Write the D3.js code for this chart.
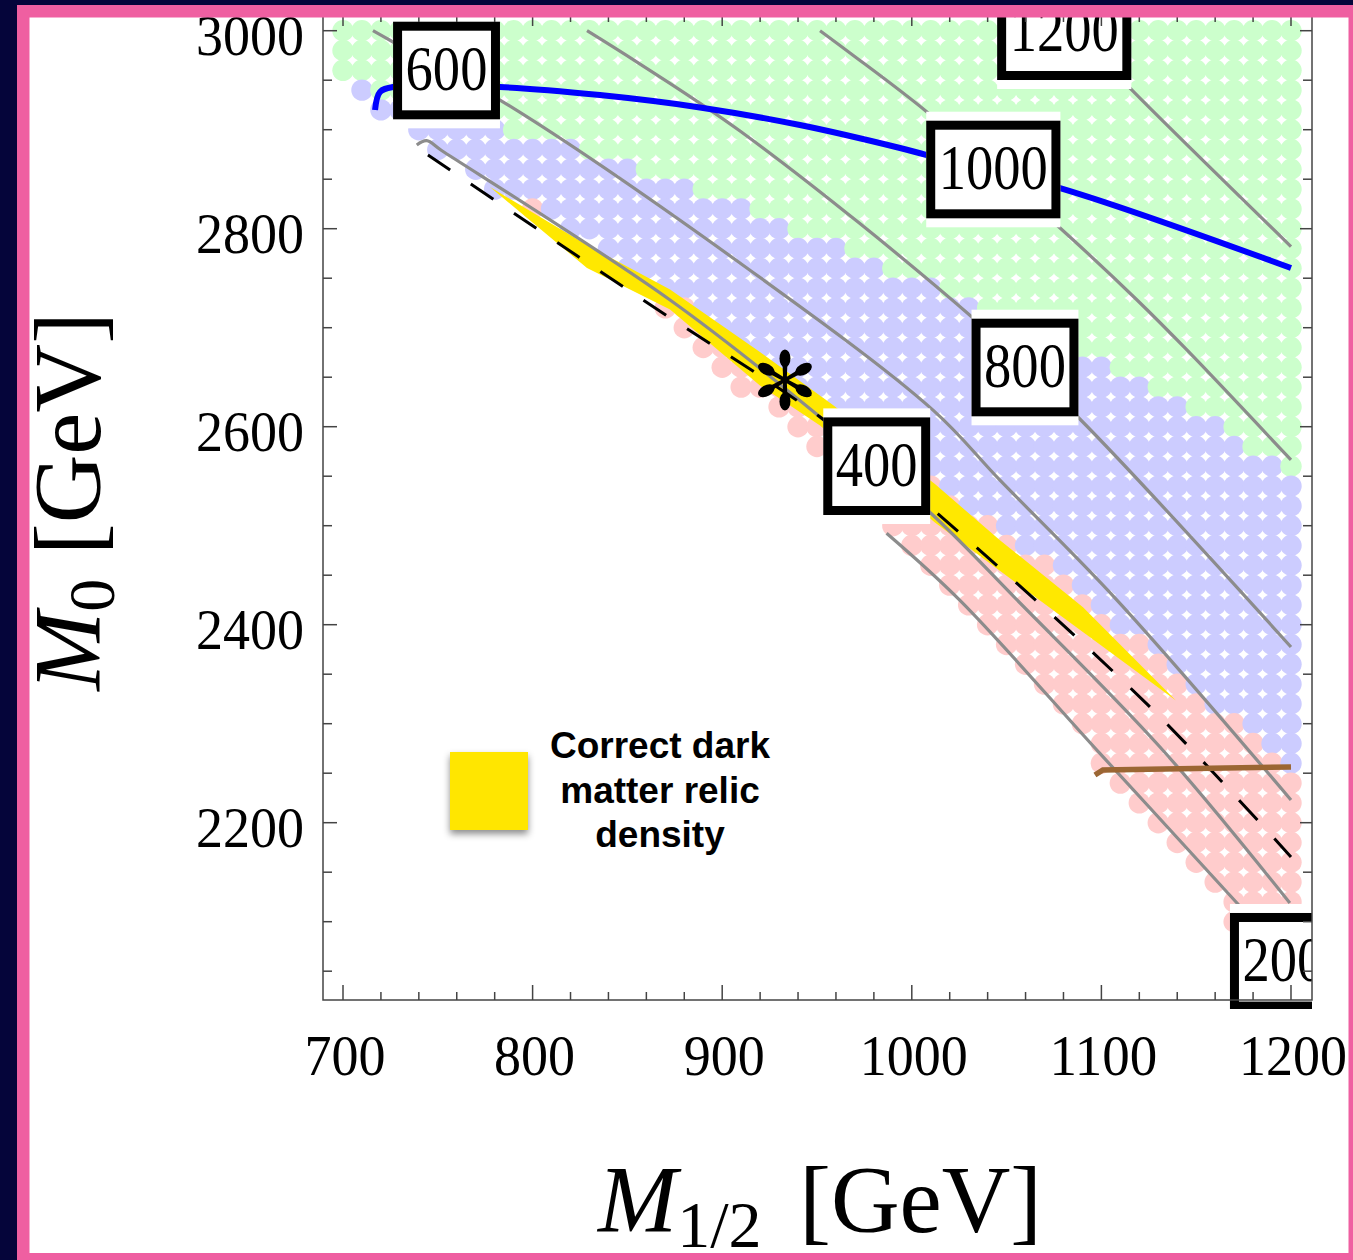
<!DOCTYPE html>
<html>
<head>
<meta charset="utf-8">
<script src="https://cdn.jsdelivr.net/npm/d3@7"></script>
<style>
html, body { margin: 0; padding: 0; background: #05053a; }
svg { display: block; }
</style>
</head>
<body>
<svg id="chart" width="1353" height="1260"></svg>
<script>
//----------------------------------------------------- data
// scan grid: M1/2 columns and M0 rows
var m12Grid = [700, 710, 720, 730, 740, 750, 760, 770, 780, 790, 800, 810, 820, 830, 840, 850, 860, 870, 880, 890,
	900, 910, 920, 930, 940, 950, 960, 970, 980, 990, 1000, 1010, 1020, 1030, 1040, 1050, 1060, 1070, 1080, 1090,
	1100, 1110, 1120, 1130, 1140, 1150, 1160, 1170, 1180, 1190, 1200];
var m0Grid = [3000, 2980, 2960, 2940, 2920, 2900, 2880, 2860, 2840, 2820, 2800, 2780, 2760, 2740, 2720, 2700,
	2680, 2660, 2640, 2620, 2600, 2580, 2560, 2540, 2520, 2500, 2480, 2460, 2440, 2420, 2400, 2380, 2360, 2340,
	2320, 2300, 2280, 2260, 2240, 2220, 2200, 2180, 2160, 2140, 2120, 2100, 2080, 2060, 2040];

// per column: lowest valid point, highest pink point (null = none), lowest green point
var lowestM0 = [2960, 2940, 2920, 2920, 2900, 2880, 2880, 2860, 2840, 2840, 2820, 2820, 2800, 2800, 2780, 2760,
	2760, 2720, 2700, 2680, 2660, 2640, 2640, 2620, 2600, 2580, 2560, 2540, 2520, 2500, 2480, 2460, 2440, 2420,
	2400, 2380, 2360, 2340, 2320, 2300, 2260, 2240, 2220, 2200, 2180, 2160, 2140, 2100, 2080, 2060, 2040];
var pinkTopM0 = [null, null, null, null, null, null, null, null, null, null, 2820, null, null, null, null, null,
	null, 2720, 2720, 2700, 2680, 2660, 2660, 2640, 2620, 2600, 2600, 2580, 2560, 2540, 2540, 2540, 2520, 2500,
	2500, 2480, 2460, 2460, 2440, 2420, 2400, 2380, 2380, 2360, 2340, 2320, 2300, 2300, 2280, 2260, 2240];
var greenLowM0 = [2960, 2960, 2940, 2940, 2920, 2920, 2920, 2920, 2920, 2900, 2900, 2900, 2900, 2880, 2880, 2880,
	2860, 2860, 2860, 2840, 2840, 2840, 2820, 2820, 2800, 2800, 2800, 2780, 2780, 2760, 2760, 2760, 2740, 2740,
	2720, 2720, 2700, 2700, 2680, 2680, 2680, 2660, 2660, 2640, 2640, 2620, 2620, 2600, 2580, 2580, 2560];

// gray contours [M1/2, M0]
var contour200 = [[986.7, 2492.3], [1025.4, 2424.5], [1099.2, 2270], [1171.5, 2118.9], [1200, 2058]];
var contour400 = [[738.9, 2884.6], [744.1, 2888.9], [752, 2879], [872.5, 2728], [951.6, 2609.8], [1012.2, 2508.8],
	[1055.5, 2425], [1130.9, 2276.5], [1199.4, 2118.9]];
var contour600 = [[715.8, 3000], [726.4, 2988.6], [782.8, 2930], [909.4, 2765.3], [1011.2, 2616.8],
	[1046.5, 2546], [1108.2, 2424.9], [1200, 2223]];
var contour800 = [[828.7, 3000], [909.4, 2898.7], [1031.7, 2710.8], [1087.6, 2609.8], [1200, 2377.5]];
var contour1000 = [[951.6, 3000], [967.4, 2977.5], [1008, 2917.9], [1078.2, 2800.7], [1118.8, 2728],
	[1145.1, 2677.5], [1200, 2566.4]];
var contour1200 = [[1086.1, 3000], [1115.1, 2942], [1200, 2782]];

// contour labels
var contourLabels = ['200', '400', '600', '800', '1000', '1200'];
var labelM12 = [1196, 981.5, 754.6, 1059.7, 1043, 1080.4];
var labelM0 = [2059.5, 2560.1, 2959.8, 2659.8, 2859.8, 2999.5];

// other curves
var dashedLine = [[744.8, 2874.5], [858.2, 2728], [951.6, 2609.8], [1013.3, 2512.8], [1125.6, 2316.9], [1200, 2165.4]];
var blueLine = [[716.9, 2919.9], [719.5, 2938.1], [726.4, 2943.1], [782.8, 2943.1], [835.5, 2935], [888.3, 2922.5],
	[941, 2904.7], [993.8, 2881.5], [1008, 2874.4], [1078.2, 2841.1], [1200, 2760.3]];
var brownLine = [[1096.6, 2248.2], [1100.8, 2253.3], [1200, 2256.3]];

// relic density band: upper edge then lower edge back
var bandUpper = [[777.5, 2842.1], [828.7, 2783.5], [872.5, 2738.5], [919.9, 2675.4], [958.4, 2621.8],
	[1012.2, 2542], [1046.5, 2485.4], [1090.3, 2417.7], [1139.3, 2323.5]];
var bandLower = [[1099.2, 2380.1], [1066, 2426.6], [1012.2, 2503.3], [951.6, 2601.3], [919.9, 2641.7],
	[872.5, 2718.5], [828.7, 2760.3]];

var benchmark = [933.1, 2647.2];

var xTicks = [700, 800, 900, 1000, 1100, 1200];
var yTicks = [2200, 2400, 2600, 2800, 3000];
var legendLines = ['Correct dark', 'matter relic', 'density'];

//----------------------------------------------------- layout
var fv = {
	'width': 1353,
	'height': 1260,
	'left': 323,
	'right': 1312,
	'top': 12,
	'bottom': 1000
};

var col = {
	'green': '#ccffcc',
	'blue': '#ccccff',
	'pink': '#ffcccc',
	'band': '#ffe800',
	'gray': '#8c8c8c'
};

var serif = '"Liberation Serif", "Times New Roman", serif';

var svg = d3.select('#chart');

var x = d3.scaleLinear().domain([689.45, 1211.08]).range([fv.left, fv.right]);
var y = d3.scaleLinear().domain([2020.9, 3018.9]).range([fv.bottom, fv.top]);

//white page
svg.append('rect')
	.attr('x', 0).attr('y', 0)
	.attr('width', fv.width).attr('height', fv.height)
	.attr('fill', '#fff');

var defs = svg.append('defs');
defs.append('clipPath').attr('id', 'plotclip')
	.append('rect')
	.attr('x', fv.left).attr('y', 0)
	.attr('width', fv.right - fv.left).attr('height', 1009);

var shadow = defs.append('filter').attr('id', 'shadow')
	.attr('x', '-30%').attr('y', '-30%').attr('width', '160%').attr('height', '160%');
shadow.append('feDropShadow')
	.attr('dx', 0).attr('dy', 4).attr('stdDeviation', 3.5)
	.attr('flood-color', '#000').attr('flood-opacity', 0.45);

var plot = svg.append('g').attr('clip-path', 'url(#plotclip)');

//-----------------------------------------------------dots
var dots = [];
m12Grid.forEach(function(m, i) {
	m0Grid.forEach(function(m0) {
		if (m0 < lowestM0[i]) return;
		var c;
		if (m0 >= greenLowM0[i]) c = col.green;
		else if (pinkTopM0[i] !== null && m0 <= pinkTopM0[i]) c = col.pink;
		else c = col.blue;
		dots.push({ m: m, m0: m0, c: c });
	});
});

plot.append('g').selectAll('circle')
	.data(dots)
	.enter().append('circle')
	.attr('cx', function(d) { return x(d.m); })
	.attr('cy', function(d) { return y(d.m0); })
	.attr('r', 10.7)
	.style('fill', function(d) { return d.c; });

//-----------------------------------------------------band
plot.append('path')
	.attr('d', d3.line()
		.x(function(d) { return x(d[0]); })
		.y(function(d) { return y(d[1]); })(bandUpper.concat(bandLower)) + 'Z')
	.style('fill', col.band);

//-----------------------------------------------------curves
var line = d3.line()
	.x(function(d) { return x(d[0]); })
	.y(function(d) { return y(d[1]); })
	.curve(d3.curveCatmullRom.alpha(0.5));

[contour200, contour400, contour600, contour800, contour1000, contour1200].forEach(function(c) {
	plot.append('path')
		.attr('d', line(c))
		.style('fill', 'none')
		.style('stroke', col.gray)
		.style('stroke-width', 3.2);
});

plot.append('path')
	.attr('d', line(dashedLine))
	.style('fill', 'none')
	.style('stroke', '#000')
	.style('stroke-width', 3)
	.style('stroke-dasharray', '27,25');

plot.append('path')
	.attr('d', line(blueLine))
	.style('fill', 'none')
	.style('stroke', '#0000ff')
	.style('stroke-width', 6);

plot.append('path')
	.attr('d', d3.line().x(function(d) { return x(d[0]); }).y(function(d) { return y(d[1]); })(brownLine))
	.style('fill', 'none')
	.style('stroke', '#9b6633')
	.style('stroke-width', 5.5);

//asterisk marker
var star = plot.append('g')
	.attr('transform', 'translate(' + x(benchmark[0]) + ',' + y(benchmark[1]) + ')');
[90, 30, -30, -90, -150, 150].forEach(function(a) {
	var g = star.append('g').attr('transform', 'rotate(' + (-a) + ')');
	g.append('path')
		.attr('d', 'M0,-1.8 L16,-2.4 L16,2.4 L0,1.8 Z')
		.style('fill', '#000');
	g.append('ellipse')
		.attr('cx', 21.5).attr('cy', 0)
		.attr('rx', 9).attr('ry', 5.5)
		.style('fill', '#000');
});
star.append('circle').attr('r', 3.8).style('fill', '#000');

//-----------------------------------------------------contour labels
var boxH = 97.6, border = 9;
contourLabels.forEach(function(t, i) {
	var cx = x(labelM12[i]), cy = y(labelM0[i]);
	var tl = t.length * 27.3;
	var w = tl + 25;
	var g = plot.append('g');
	g.append('rect')
		.attr('x', cx - w / 2).attr('y', cy - boxH / 2 - 9)
		.attr('width', w).attr('height', boxH + 18)
		.style('fill', '#fff');
	g.append('rect')
		.attr('x', cx - w / 2 + border / 2).attr('y', cy - boxH / 2 + border / 2)
		.attr('width', w - border).attr('height', boxH - border)
		.style('fill', '#fff')
		.style('stroke', '#000')
		.style('stroke-width', border);
	g.append('text')
		.attr('x', cx).attr('y', cy + 19.5)
		.attr('text-anchor', 'middle')
		.attr('textLength', tl)
		.attr('lengthAdjust', 'spacingAndGlyphs')
		.style('font-family', serif)
		.style('font-size', '63px')
		.text(t);
});

//-----------------------------------------------------frame & ticks
var axisColor = '#444';
var frame = svg.append('g');
frame.append('rect')
	.attr('x', fv.left).attr('y', fv.top)
	.attr('width', fv.right - fv.left).attr('height', fv.bottom - fv.top)
	.style('fill', 'none')
	.style('stroke', axisColor)
	.style('stroke-width', 1.5);

var xMinor = d3.range(700, 1211, 20);
var yMinor = d3.range(2050, 3001, 50);

xMinor.forEach(function(v) {
	var major = xTicks.indexOf(v) >= 0;
	frame.append('line')
		.attr('x1', x(v)).attr('x2', x(v))
		.attr('y1', fv.bottom).attr('y2', fv.bottom - (major ? 15 : 8))
		.style('stroke', axisColor).style('stroke-width', 1.5);
	frame.append('line')
		.attr('x1', x(v)).attr('x2', x(v))
		.attr('y1', fv.top).attr('y2', fv.top + (major ? 14 : 10))
		.style('stroke', axisColor).style('stroke-width', 1.5);
});
yMinor.forEach(function(v) {
	var major = yTicks.indexOf(v) >= 0;
	frame.append('line')
		.attr('x1', fv.left).attr('x2', fv.left + (major ? 14 : 9))
		.attr('y1', y(v)).attr('y2', y(v))
		.style('stroke', axisColor).style('stroke-width', 1.5);
	frame.append('line')
		.attr('x1', fv.right).attr('x2', fv.right - (major ? 12 : 9))
		.attr('y1', y(v)).attr('y2', y(v))
		.style('stroke', axisColor).style('stroke-width', 1.5);
});

xTicks.forEach(function(v) {
	svg.append('text')
		.attr('x', x(v) + 2).attr('y', 1075)
		.attr('text-anchor', 'middle')
		.attr('textLength', String(v).length * 27)
		.attr('lengthAdjust', 'spacingAndGlyphs')
		.style('font-family', serif)
		.style('font-size', '58px')
		.text(v);
});
yTicks.forEach(function(v) {
	svg.append('text')
		.attr('x', 304).attr('y', y(v) + 24.5)
		.attr('text-anchor', 'end')
		.attr('textLength', String(v).length * 27)
		.attr('lengthAdjust', 'spacingAndGlyphs')
		.style('font-family', serif)
		.style('font-size', '58px')
		.text(v);
});

//axis titles
var xt = svg.append('text')
	.attr('transform', 'translate(820,1232)')
	.attr('text-anchor', 'middle')
	.style('font-family', serif)
	.style('font-size', '95px');
xt.append('tspan').style('font-style', 'italic').text('M');
xt.append('tspan').attr('dy', 15).style('font-size', '66px').text('1/2');
xt.append('tspan').attr('dy', -15).attr('dx', 14).text('\u00a0[GeV]');

var yt = svg.append('text')
	.attr('transform', 'translate(100,501.5) rotate(-90)')
	.attr('text-anchor', 'middle')
	.style('font-family', serif)
	.style('font-size', '95px');
yt.append('tspan').style('font-style', 'italic').text('M');
yt.append('tspan').attr('dy', 14).style('font-size', '66px').text('0');
yt.append('tspan').attr('dy', -14).text('\u00a0[GeV]');

//-----------------------------------------------------legend
svg.append('rect')
	.attr('x', 450).attr('y', 752)
	.attr('width', 78).attr('height', 78)
	.style('fill', '#ffe600')
	.attr('filter', 'url(#shadow)');
legendLines.forEach(function(t, i) {
	svg.append('text')
		.attr('x', 660).attr('y', 758 + i * 44.5)
		.attr('text-anchor', 'middle')
		.style('font-family', '"Liberation Sans", Arial, sans-serif')
		.style('font-weight', 'bold')
		.style('font-size', '37px')
		.text(t);
});

//-----------------------------------------------------page border
svg.append('rect')
	.attr('x', 23.25).attr('y', 11.25)
	.attr('width', 1331.5).attr('height', 1248)
	.style('fill', 'none')
	.style('stroke', '#ef5fa1')
	.style('stroke-width', 12.5);
svg.append('rect').attr('x', 0).attr('y', 0).attr('width', 17).attr('height', fv.height).style('fill', '#05053a');
svg.append('rect').attr('x', 0).attr('y', 0).attr('width', fv.width).attr('height', 5).style('fill', '#05053a');
</script>
</body>
</html>
